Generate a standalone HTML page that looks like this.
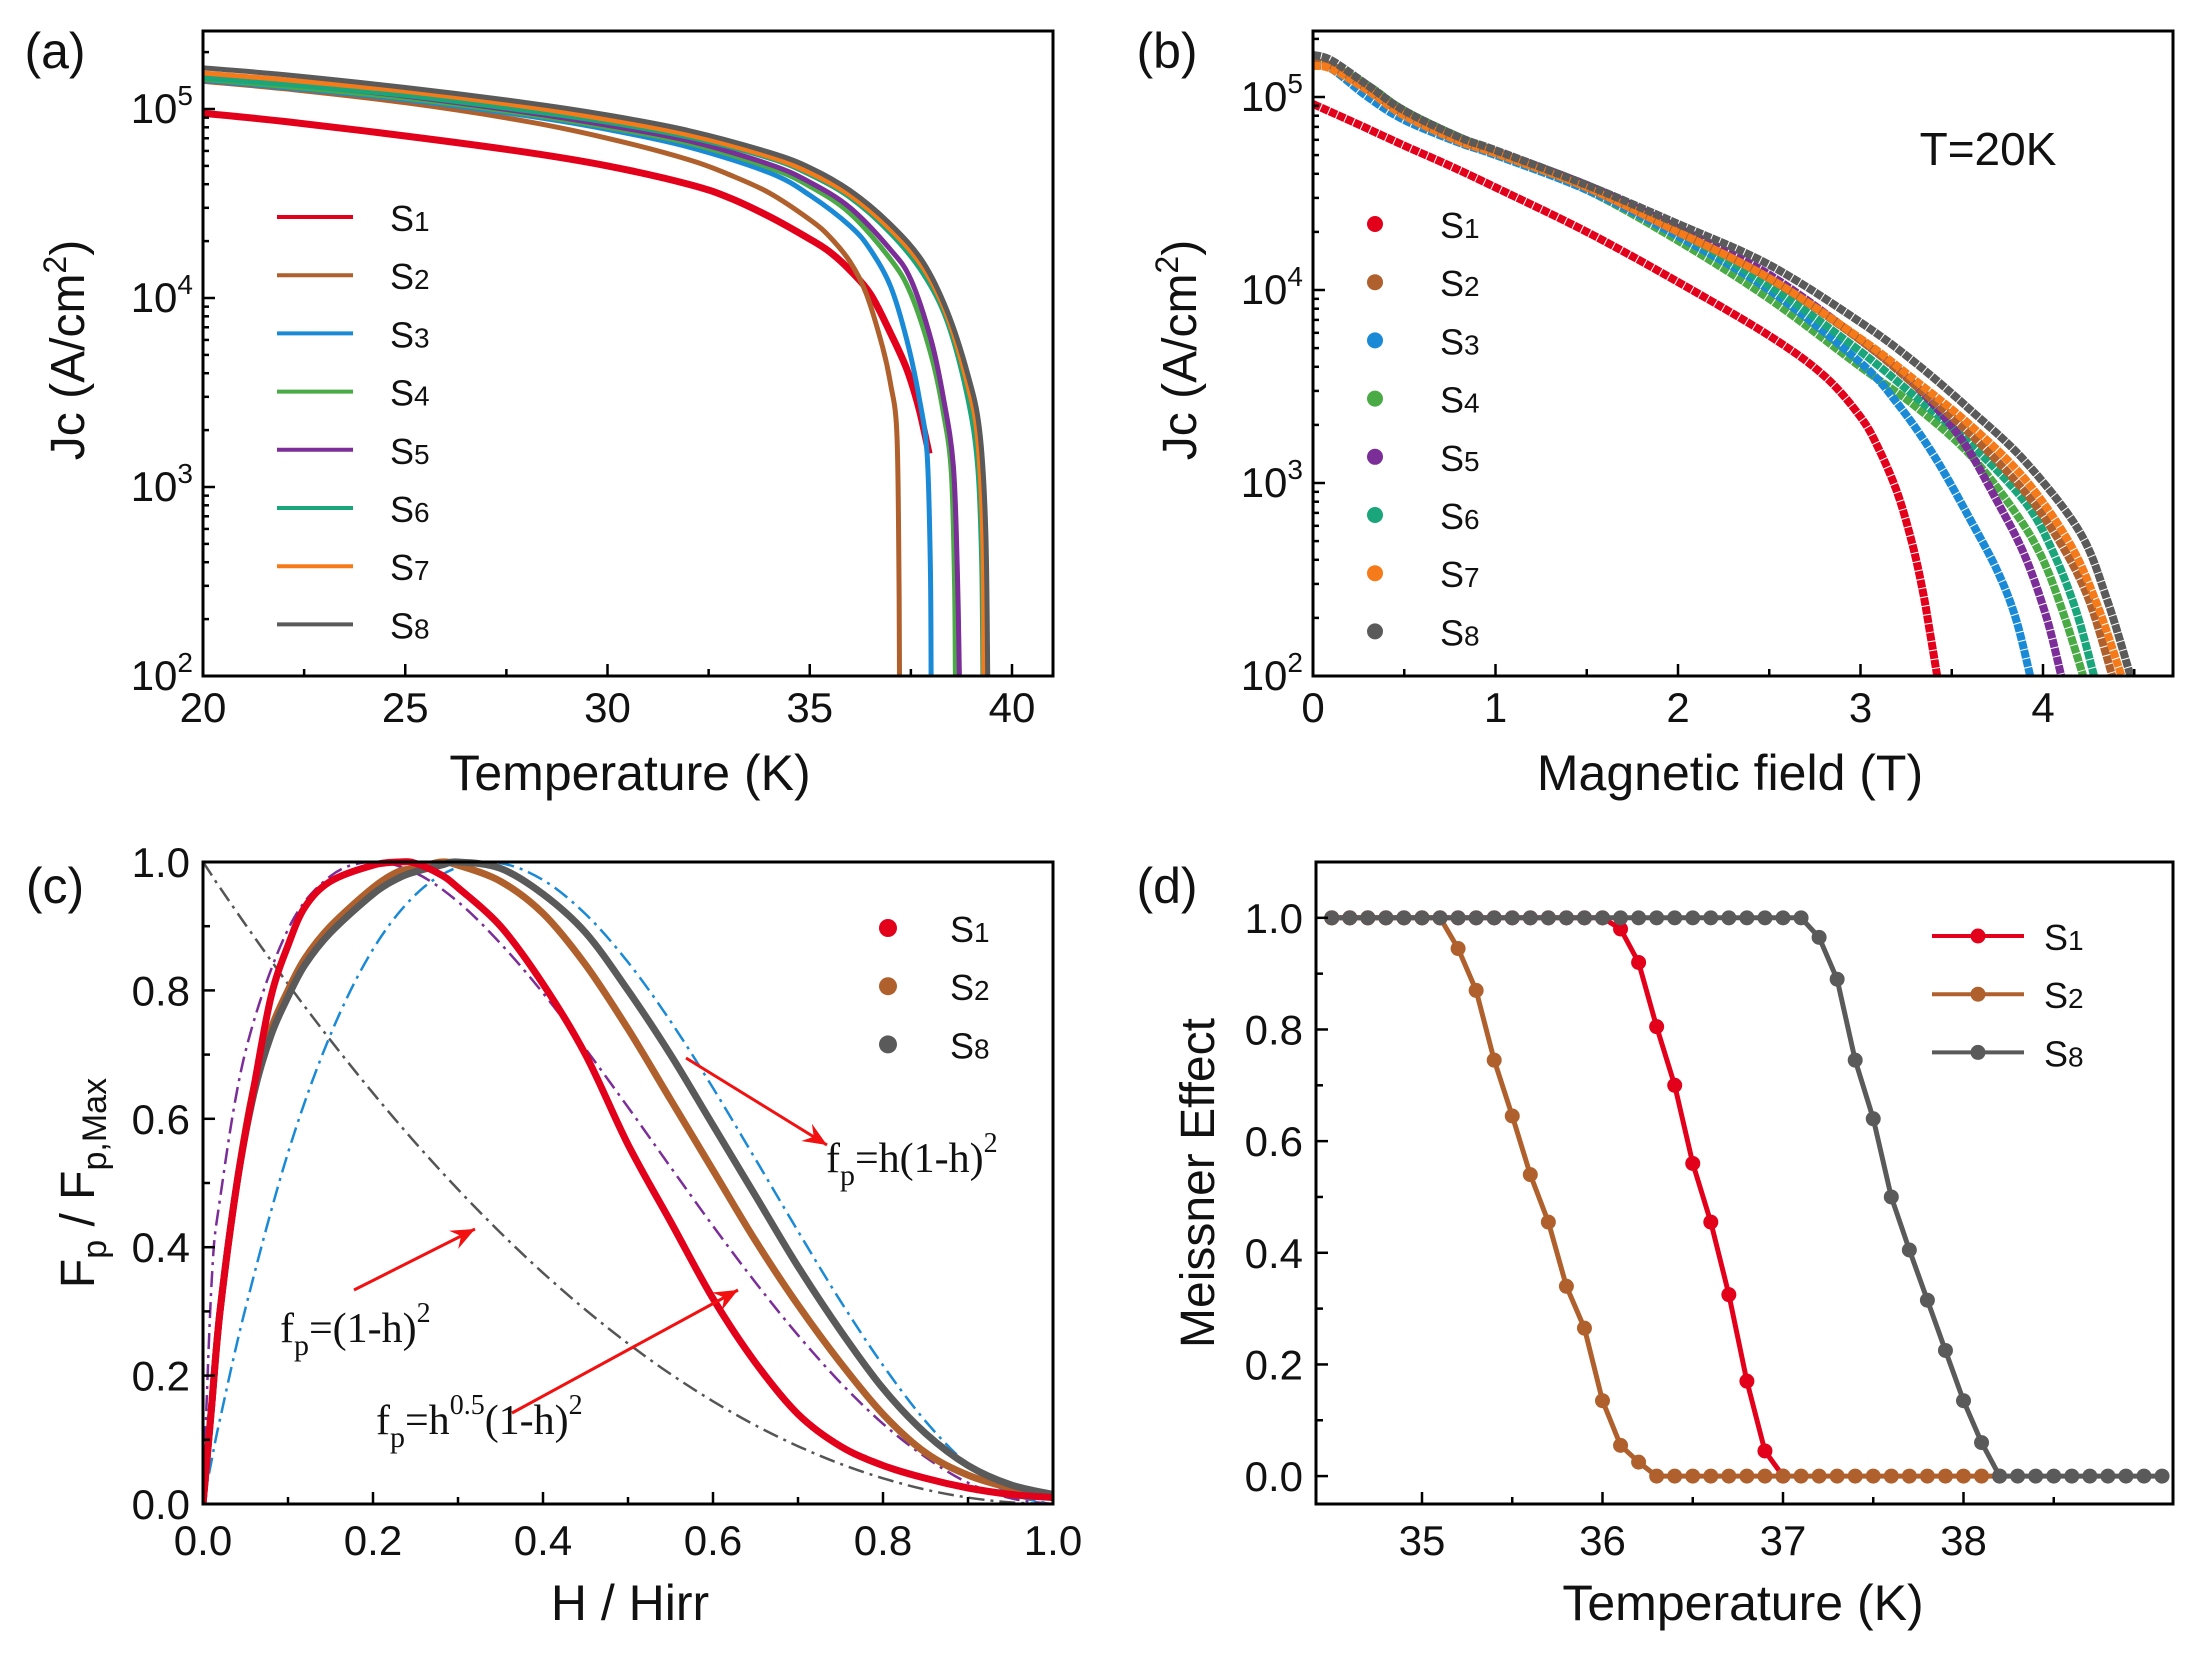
<!DOCTYPE html>
<html><head><meta charset="utf-8"><style>
html,body{margin:0;padding:0;background:#fff}
svg{display:block}
text{font-family:"Liberation Sans",sans-serif;fill:#111}
.serif{font-family:"Liberation Serif",serif}
</style></head><body>
<svg id="fig" width="2195" height="1653" viewBox="0 0 2195 1653" xmlns="http://www.w3.org/2000/svg"></svg>
<script>
// ---------- Panel (a) data: Jc vs Temperature ----------
const aSeriesNames = ["S1","S2","S3","S4","S5","S6","S7","S8"];
const aColors = ["#e3001b","#b0602c","#1b8ad6","#4aaa45","#7b2d98","#1aa57a","#f57a1a","#5a5a5a"];
const aT = [
 [20,22,25,28,30,32,33,34,35,35.5,36,36.5,37,37.4,37.7,37.95],
 [20,22,25,28,30,32,33,34,35,35.5,36,36.4,36.8,37.0,37.15,37.2,37.22],
 [20,22,25,28,30,32,34,35,36,36.5,37,37.4,37.7,37.9,37.98,38.0],
 [20,22,25,28,30,32,34,35,36,37,37.5,38,38.3,38.5,38.58,38.6],
 [20,22,25,28,30,32,34,35,36,37,37.5,38,38.3,38.55,38.65,38.7],
 [20,22,25,28,30,32,34,35,36,37,37.8,38.4,38.9,39.15,39.25,39.28],
 [20,22,25,28,30,32,34,35,36,37,37.8,38.4,38.9,39.15,39.28,39.3],
 [20,22,25,28,30,32,34,35,36,37,37.8,38.4,38.9,39.2,39.35,39.4]
];
const aJ = [
 [9.5e4,8.6e4,7.2e4,5.9e4,5.0e4,4.0e4,3.4e4,2.7e4,2.05e4,1.75e4,1.4e4,1.05e4,6.5e3,4.2e3,2.6e3,1.5e3],
 [1.4e5,1.28e5,1.08e5,8.6e4,7.0e4,5.4e4,4.5e4,3.6e4,2.6e4,2.1e4,1.55e4,1.05e4,5.5e3,3.5e3,2e3,500,100],
 [1.42e5,1.3e5,1.12e5,9.2e4,7.8e4,6.3e4,4.6e4,3.5e4,2.4e4,1.8e4,1.15e4,6e3,3e3,1.5e3,400,100],
 [1.44e5,1.32e5,1.14e5,9.4e4,8.0e4,6.6e4,4.9e4,3.9e4,2.8e4,1.6e4,1.05e4,5e3,2.5e3,1.2e3,300,100],
 [1.48e5,1.36e5,1.17e5,9.6e4,8.2e4,6.8e4,5.1e4,4.1e4,3.0e4,1.8e4,1.25e4,6e3,3e3,1.3e3,350,100],
 [1.46e5,1.35e5,1.18e5,9.8e4,8.5e4,7.1e4,5.5e4,4.5e4,3.4e4,2.2e4,1.35e4,7.5e3,3e3,1.3e3,400,100],
 [1.55e5,1.43e5,1.24e5,1.03e5,8.8e4,7.3e4,5.6e4,4.6e4,3.5e4,2.3e4,1.45e4,8e3,3.5e3,1.8e3,500,100],
 [1.65e5,1.52e5,1.3e5,1.08e5,9.3e4,7.7e4,5.9e4,4.9e4,3.7e4,2.45e4,1.55e4,8.5e3,4e3,2e3,600,100]
];
// ---------- Panel (b) data: Jc vs Field ----------
const bB = [
 [0,0.25,0.5,0.75,1,1.5,2,2.5,2.8,3,3.1,3.2,3.28,3.34,3.38,3.42],
 [0,0.1,0.3,0.5,0.8,1,1.5,2,2.5,3,3.3,3.6,3.9,4.1,4.25,4.38],
 [0,0.1,0.3,0.5,0.8,1,1.5,2,2.5,3,3.2,3.4,3.6,3.75,3.85,3.93],
 [0,0.1,0.3,0.5,0.8,1,1.5,2,2.5,3,3.3,3.6,3.85,4.0,4.12,4.22],
 [0,0.1,0.3,0.5,0.8,1,1.5,2,2.5,3,3.3,3.55,3.75,3.9,4.02,4.1],
 [0,0.1,0.3,0.5,0.8,1,1.5,2,2.5,3,3.3,3.6,3.9,4.05,4.18,4.28],
 [0,0.1,0.3,0.5,0.8,1,1.5,2,2.5,3,3.3,3.6,3.9,4.15,4.3,4.43],
 [0,0.1,0.3,0.5,0.8,1,1.5,2,2.5,3,3.3,3.6,3.9,4.2,4.35,4.48]
];
const bJ = [
 [9.2e4,7.2e4,5.6e4,4.4e4,3.4e4,2.0e4,1.1e4,5.8e3,3.6e3,2.2e3,1.5e3,900,500,280,170,100],
 [1.5e5,1.45e5,1.1e5,8.2e4,6e4,5.2e4,3.4e4,2.0e4,1.15e4,5.5e3,3.2e3,1.8e3,900,480,250,100],
 [1.45e5,1.4e5,1.0e5,7.6e4,5.8e4,5.0e4,3.3e4,1.9e4,1.0e4,4.2e3,2.6e3,1.4e3,650,350,200,100],
 [1.45e5,1.45e5,1.15e5,8.5e4,6.2e4,5.2e4,3.3e4,1.8e4,9e3,4e3,2.5e3,1.4e3,700,400,200,100],
 [1.5e5,1.45e5,1.1e5,8.2e4,6e4,5.2e4,3.5e4,2.1e4,1.2e4,5.5e3,3.2e3,1.7e3,800,420,200,100],
 [1.45e5,1.42e5,1.1e5,8.2e4,6e4,5.1e4,3.4e4,2.0e4,1.05e4,4.8e3,2.8e3,1.6e3,800,450,220,100],
 [1.45e5,1.4e5,1.08e5,8e4,5.9e4,5.1e4,3.4e4,2.0e4,1.15e4,5.6e3,3.4e3,2.0e3,1.05e3,480,230,100],
 [1.65e5,1.55e5,1.15e5,8.5e4,6.2e4,5.3e4,3.5e4,2.2e4,1.35e4,6.8e3,4.2e3,2.4e3,1.3e3,560,250,100]
];
// ---------- Panel (c) data: normalized pinning force ----------
const cH = [0,0.01,0.02,0.04,0.06,0.08,0.1,0.12,0.15,0.2,0.23,0.25,0.28,0.3,0.35,0.4,0.45,0.5,0.55,0.6,0.65,0.7,0.75,0.8,0.85,0.9,0.95,1.0];
const cS1 = [0,0.15,0.3,0.5,0.65,0.79,0.87,0.93,0.97,0.995,1,0.998,0.98,0.96,0.9,0.81,0.7,0.56,0.44,0.32,0.22,0.14,0.09,0.06,0.04,0.025,0.015,0.01];
const cS2 = [0,0.15,0.3,0.5,0.65,0.74,0.8,0.85,0.9,0.96,0.985,0.99,1,0.995,0.97,0.92,0.84,0.74,0.63,0.52,0.41,0.31,0.22,0.14,0.08,0.045,0.025,0.01];
const cS8 = [0,0.15,0.3,0.5,0.64,0.73,0.79,0.84,0.89,0.95,0.975,0.985,0.995,1,0.99,0.95,0.89,0.8,0.7,0.59,0.48,0.37,0.27,0.18,0.11,0.06,0.03,0.015];
const mH = [0,0.01,0.02,0.05,0.1,0.15,0.2,0.25,0.3,0.35,0.4,0.45,0.5,0.55,0.6,0.65,0.7,0.75,0.8,0.85,0.9,0.95,1.0];
const mHalf = [0,0.342,0.475,0.705,0.895,0.978,1,0.983,0.938,0.873,0.796,0.709,0.618,0.525,0.433,0.345,0.263,0.189,0.125,0.073,0.033,0.009,0];
const mOne = [0,0.067,0.132,0.305,0.547,0.731,0.864,0.949,0.992,0.998,0.972,0.919,0.844,0.752,0.648,0.537,0.425,0.316,0.216,0.129,0.061,0.016,0];
const mQ = [1,0.98,0.96,0.9025,0.81,0.7225,0.64,0.5625,0.49,0.4225,0.36,0.3025,0.25,0.2025,0.16,0.1225,0.09,0.0625,0.04,0.0225,0.01,0.0025,0];
// ---------- Panel (d) data: Meissner effect ----------
const dT1 = [34.5,34.6,34.7,34.8,34.9,35,35.1,35.2,35.3,35.4,35.5,35.6,35.7,35.8,35.9,36,36.1,36.2,36.3,36.4,36.5,36.6,36.7,36.8,36.9,37.0];
const dS1 = [1,1,1,1,1,1,1,1,1,1,1,1,1,1,1,1,0.98,0.92,0.805,0.70,0.56,0.455,0.325,0.17,0.045,0];
const dT2 = [34.5,34.6,34.7,34.8,34.9,35,35.1,35.2,35.3,35.4,35.5,35.6,35.7,35.8,35.9,36,36.1,36.2,36.3,36.4,36.5,36.6,36.7,36.8,36.9,37,37.1,37.2,37.3,37.4,37.5,37.6,37.7,37.8,37.9,38,38.1,38.2];
const dS2 = [1,1,1,1,1,1,1,0.945,0.87,0.745,0.645,0.54,0.455,0.34,0.265,0.135,0.055,0.025,0,0,0,0,0,0,0,0,0,0,0,0,0,0,0,0,0,0,0,0];
const dT8 = [34.5,34.6,34.7,34.8,34.9,35,35.1,35.2,35.3,35.4,35.5,35.6,35.7,35.8,35.9,36,36.1,36.2,36.3,36.4,36.5,36.6,36.7,36.8,36.9,37,37.1,37.2,37.3,37.4,37.5,37.6,37.7,37.8,37.9,38,38.1,38.2,38.3,38.4,38.5,38.6,38.7,38.8,38.9,39.0,39.1];
const dS8 = [1,1,1,1,1,1,1,1,1,1,1,1,1,1,1,1,1,1,1,1,1,1,1,1,1,1,1,0.965,0.89,0.745,0.64,0.5,0.405,0.315,0.225,0.135,0.06,0,0,0,0,0,0,0,0,0,0];

const NS="http://www.w3.org/2000/svg";
const svg=document.getElementById('fig');
function el(tag,attrs,parent){const e=document.createElementNS(NS,tag);for(const k in attrs)e.setAttribute(k,attrs[k]);(parent||svg).appendChild(e);return e;}
function txt(s,x,y,size,anchor,parent,cls){const t=el('text',{x:x,y:y,'font-size':size,'text-anchor':anchor||'middle'},parent);if(cls)t.setAttribute('class',cls);t.textContent=s;return t;}
function poly(pts){let d='M'+pts[0][0].toFixed(1)+','+pts[0][1].toFixed(1);for(let i=1;i<pts.length;i++)d+=' L'+pts[i][0].toFixed(1)+','+pts[i][1].toFixed(1);return d;}
function smooth(pts){
 let d='M'+pts[0][0].toFixed(1)+','+pts[0][1].toFixed(1);
 for(let i=0;i<pts.length-1;i++){
  const p0=pts[Math.max(0,i-1)],p1=pts[i],p2=pts[i+1],p3=pts[Math.min(pts.length-1,i+2)];
  const c1=[p1[0]+(p2[0]-p0[0])/6,p1[1]+(p2[1]-p0[1])/6];
  const c2=[p2[0]-(p3[0]-p1[0])/6,p2[1]-(p3[1]-p1[1])/6];
  d+=` C${c1[0].toFixed(1)},${c1[1].toFixed(1)} ${c2[0].toFixed(1)},${c2[1].toFixed(1)} ${p2[0].toFixed(1)},${p2[1].toFixed(1)}`;
 }
 return d;
}

function frame(g,L,R,T,B){el('rect',{x:L,y:T,width:R-L,height:B-T,fill:'none',stroke:'#000','stroke-width':3},g);}
function xtick(g,x,B,len){el('line',{x1:x,y1:B,x2:x,y2:B-len,stroke:'#000','stroke-width':2.5},g);}
function ytick(g,y,L,len){el('line',{x1:L,y1:y,x2:L+len,y2:y,stroke:'#000','stroke-width':2.5},g);}

// ================= Panel (a) =================
(function(){
 const L=203,R=1053,T=31,B=676;
 const x=v=>L+(v-20)/20*(1012-L);
 const y=v=>B-(Math.log10(v)-2)*189;
 const g=el('g',{});  
 const clip=el('clipPath',{id:'ca'}); el('rect',{x:L,y:T,width:R-L,height:B-T},clip);
 const cg=el('g',{'clip-path':'url(#ca)'},g);
 for(let i=0;i<8;i++){
  const p=el('path',{d:smooth(aT[i].map((t,j)=>[x(t),y(aJ[i][j])])),fill:'none',stroke:aColors[i],'stroke-width':i===0?7:5,'stroke-linejoin':'round'},cg);
   
 }
 frame(g,L,R,T,B);
 [20,25,30,35,40].forEach(v=>{xtick(g,x(v),B,12);const t=txt(String(v),x(v),722,42,'middle',g);});
 [22.5,27.5,32.5,37.5].forEach(v=>xtick(g,x(v),B,7));
 [2,3,4,5].forEach(e=>{ytick(g,y(Math.pow(10,e)),L,12);const t=el('text',{x:193,y:y(Math.pow(10,e))+14,'font-size':42,'text-anchor':'end'},g);t.innerHTML='10<tspan dy="-18" font-size="28">'+e+'</tspan>';});
 for(let e=2;e<5.4;e++)for(let m=2;m<10;m++){const v=m*Math.pow(10,e);if(y(v)>T)ytick(g,y(v),L,6);}
 let t=txt('(a)',55,68,50,'middle',g);  
 t=el('text',{x:0,y:0,'font-size':48,'text-anchor':'middle',transform:'translate(84,350) rotate(-90)'},g);t.innerHTML='Jc (A/cm<tspan dy="-18" font-size="32">2</tspan><tspan dy="18">)</tspan>';
 t=txt('Temperature (K)',630,790,50,'middle',g);
 const lg=el('g',{},g);
 for(let i=0;i<8;i++){const yy=217+i*58.2;el('line',{x1:277,y1:yy,x2:353,y2:yy,stroke:aColors[i],'stroke-width':4},lg);const tt=el('text',{x:390,y:yy+14,'font-size':36,'text-anchor':'start'},lg);tt.innerHTML='S<tspan font-size="28">'+(i+1)+'</tspan>';}
})();

// ================= Panel (b) =================
(function(){
 const L=1313,R=2173,T=31,B=676;
 const x=v=>L+v/4*(2043-L);
 const y=v=>B-(Math.log10(v)-2)*193;
 const g=el('g',{});  
 const clip=el('clipPath',{id:'cb'}); el('rect',{x:L,y:T,width:R-L,height:B-T},clip);
 const cg=el('g',{'clip-path':'url(#cb)'},g);
 const order=[3,2,5,4,1,6,7,0];
 order.forEach(i=>{
  const p=el('path',{d:smooth(bB[i].map((b,j)=>[x(b),y(bJ[i][j])])),fill:'none',stroke:aColors[i],'stroke-width':8,'stroke-dasharray':'8 1','stroke-linejoin':'round'},cg);
   
 });
 frame(g,L,R,T,B);
 [0,1,2,3,4].forEach(v=>{xtick(g,x(v),B,12);const t=txt(String(v),x(v),722,42,'middle',g);});
 [0.5,1.5,2.5,3.5,4.5].forEach(v=>xtick(g,x(v),B,7));
 [2,3,4,5].forEach(e=>{ytick(g,y(Math.pow(10,e)),L,12);const t=el('text',{x:1303,y:y(Math.pow(10,e))+14,'font-size':42,'text-anchor':'end'},g);t.innerHTML='10<tspan dy="-18" font-size="28">'+e+'</tspan>';});
 for(let e=2;e<5.4;e++)for(let m=2;m<10;m++){const v=m*Math.pow(10,e);if(y(v)>T)ytick(g,y(v),L,6);}
 let t=txt('(b)',1167,68,50,'middle',g);  
 t=el('text',{x:0,y:0,'font-size':48,'text-anchor':'middle',transform:'translate(1196,350) rotate(-90)'},g);t.innerHTML='Jc (A/cm<tspan dy="-18" font-size="32">2</tspan><tspan dy="18">)</tspan>';
 t=txt('Magnetic field (T)',1730,790,50,'middle',g);
 t=txt('T=20K',1988,165,46,'middle',g);
 const lg=el('g',{},g);
 for(let i=0;i<8;i++){const yy=224+i*58.2;el('circle',{cx:1375,cy:yy,r:8,fill:aColors[i]},lg);const tt=el('text',{x:1440,y:yy+14,'font-size':36,'text-anchor':'start'},lg);tt.innerHTML='S<tspan font-size="28">'+(i+1)+'</tspan>';}
})();

// ================= Panel (c) =================
(function(){
 const L=203,R=1053,T=862,B=1504;
 const x=v=>L+v*(R-L);
 const y=v=>B-v*(B-T);
 const g=el('g',{});  
 const clip=el('clipPath',{id:'cc'}); el('rect',{x:L,y:T-4,width:R-L,height:B-T+4},clip);
 const cg=el('g',{'clip-path':'url(#cc)'},g);
 const models=[[mQ,'#555','model-one-minus-h-squared'],[mHalf,'#7b2d98','model-h05'],[mOne,'#1b8ad6','model-h1']];
 models.forEach(m=>{const p=el('path',{d:smooth(mH.map((h,j)=>[x(h),y(m[0][j])])),fill:'none',stroke:m[1],'stroke-width':2.5,'stroke-dasharray':'16 6 3 6'},cg);});
 [[cS2,'#b0602c','curve-s2'],[cS8,'#5a5a5a','curve-s8'],[cS1,'#e3001b','curve-s1']].forEach(s=>{const p=el('path',{d:smooth(cH.map((h,j)=>[x(h),y(s[0][j])])),fill:'none',stroke:s[1],'stroke-width':7,'stroke-linejoin':'round'},cg);});
 frame(g,L,R,T,B);
 [0,0.2,0.4,0.6,0.8,1].forEach(v=>{xtick(g,x(v),B,12);ytick(g,y(v),L,12);let t=txt(v.toFixed(1),x(v),1555,42,'middle',g);t=txt(v.toFixed(1),190,y(v)+15,42,'end',g);});
 [0.1,0.3,0.5,0.7,0.9].forEach(v=>{xtick(g,x(v),B,7);ytick(g,y(v),L,7);});
 let t=txt('(c)',55,903,50,'middle',g);  
 t=el('text',{x:0,y:0,'font-size':48,'text-anchor':'middle',transform:'translate(94,1183) rotate(-90)'},g);t.innerHTML='F<tspan dy="12" font-size="34">p</tspan><tspan dy="-12"> / F</tspan><tspan dy="12" font-size="34">p,Max</tspan>';
 t=txt('H / Hirr',630,1620,50,'middle',g);
 const lg=el('g',{},g);
 [['#e3001b','1'],['#b0602c','2'],['#5a5a5a','8']].forEach((s,i)=>{const yy=928+i*58.2;el('circle',{cx:888,cy:yy,r:9,fill:s[0]},lg);const tt=el('text',{x:950,y:yy+14,'font-size':36,'text-anchor':'start'},lg);tt.innerHTML='S<tspan font-size="28">'+s[1]+'</tspan>';});
 function arrow(x1,y1,x2,y2,name){const a=el('g',{},g);el('line',{x1:x1,y1:y1,x2:x2,y2:y2,stroke:'#f21010','stroke-width':3},a);const ang=Math.atan2(y2-y1,x2-x1);const hl=26,hw=0.4;el('path',{d:`M${x2},${y2} L${x2-hl*Math.cos(ang-hw)},${y2-hl*Math.sin(ang-hw)} L${x2-hl*0.6*Math.cos(ang)},${y2-hl*0.6*Math.sin(ang)} L${x2-hl*Math.cos(ang+hw)},${y2-hl*Math.sin(ang+hw)} Z`,fill:'#f21010'},a);}
 arrow(686,1058,827,1145,'arrow-h1');
 arrow(354,1290,475,1229,'arrow-one-minus-h');
 arrow(512,1413,738,1290,'arrow-h05');
 function formula(xx,yy,html,name){const t=el('text',{x:xx,y:yy,'font-size':42,'text-anchor':'start','class':'serif'},g);t.innerHTML=html;}
 formula(826,1172,'f<tspan dy="13" font-size="30">p</tspan><tspan dy="-13">=h(1-h)</tspan><tspan dy="-20" font-size="28">2</tspan>','formula-h1');
 formula(280,1342,'f<tspan dy="13" font-size="30">p</tspan><tspan dy="-13">=(1-h)</tspan><tspan dy="-20" font-size="28">2</tspan>','formula-one-minus-h');
 formula(376,1434,'f<tspan dy="13" font-size="30">p</tspan><tspan dy="-13">=h</tspan><tspan dy="-20" font-size="28">0.5</tspan><tspan dy="20">(1-h)</tspan><tspan dy="-20" font-size="28">2</tspan>','formula-h05');
})();

// ================= Panel (d) =================
(function(){
 const L=1316,R=2173,T=862,B=1504;
 const x=v=>1422+(v-35)*180.5;
 const y=v=>B-(v+0.05)/1.15*(B-T);
 const g=el('g',{});  
 const clip=el('clipPath',{id:'cd'}); el('rect',{x:L,y:T,width:R-L,height:B-T},clip);
 const cg=el('g',{'clip-path':'url(#cd)'},g);
 [[dT1,dS1,'#e3001b','s1'],[dT2,dS2,'#b0602c','s2'],[dT8,dS8,'#5a5a5a','s8']].forEach(s=>{
  const sg=el('g',{},cg);
  el('path',{d:poly(s[0].map((t,j)=>[x(t),y(s[1][j])])),fill:'none',stroke:s[2],'stroke-width':5,'stroke-linejoin':'round'},sg);
  s[0].forEach((t,j)=>{const c=el('circle',{cx:x(t),cy:y(s[1][j]),r:7.5,fill:s[2]},sg);});
 });
 frame(g,L,R,T,B);
 [35,36,37,38].forEach(v=>{xtick(g,x(v),B,12);const t=txt(String(v),x(v),1555,42,'middle',g);});
 [35.5,36.5,37.5,38.5].forEach(v=>xtick(g,x(v),B,7));
 [0,0.2,0.4,0.6,0.8,1].forEach(v=>{ytick(g,y(v),L,12);const t=txt(v.toFixed(1),1303,y(v)+15,42,'end',g);});
 [0.1,0.3,0.5,0.7,0.9].forEach(v=>ytick(g,y(v),L,7));
 let t=txt('(d)',1167,903,50,'middle',g);  
 t=el('text',{x:0,y:0,'font-size':48,'text-anchor':'middle',transform:'translate(1214,1183) rotate(-90)'},g);t.textContent='Meissner Effect';
 t=txt('Temperature (K)',1743,1620,50,'middle',g);
 const lg=el('g',{},g);
 [['#e3001b','1'],['#b0602c','2'],['#5a5a5a','8']].forEach((s,i)=>{const yy=936+i*58.2;el('line',{x1:1932,y1:yy,x2:2024,y2:yy,stroke:s[0],'stroke-width':4},lg);el('circle',{cx:1978,cy:yy,r:7.5,fill:s[0]},lg);const tt=el('text',{x:2044,y:yy+14,'font-size':36,'text-anchor':'start'},lg);tt.innerHTML='S<tspan font-size="28">'+s[1]+'</tspan>';});
})();
</script>
</body></html>
